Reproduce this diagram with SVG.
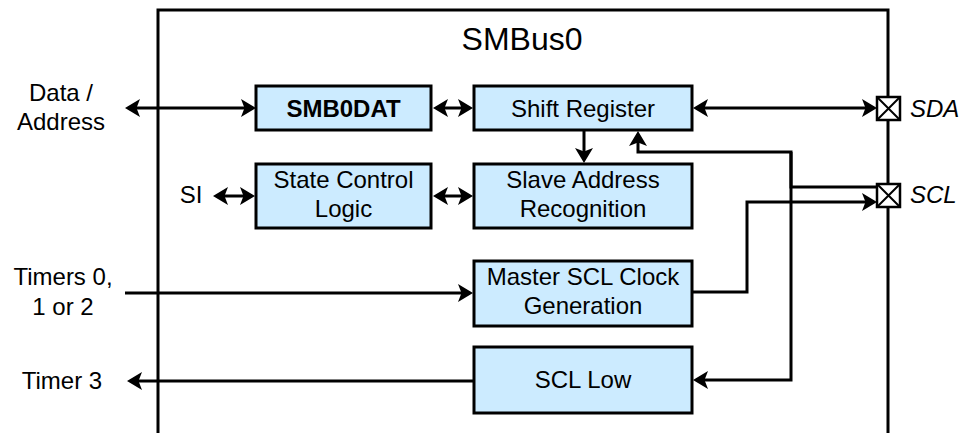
<svg xmlns="http://www.w3.org/2000/svg" width="959" height="433" viewBox="0 0 959 433">
<style>
.frame{fill:none;stroke:#000;stroke-width:3}
.box{fill:#CCEBFF;stroke:#000;stroke-width:3}
.pin{fill:#fff;stroke:#000;stroke-width:2.5}
.t{font-family:"Liberation Sans",Arial,sans-serif;font-size:24px;fill:#000;text-anchor:middle}
.b{font-weight:bold}
.i{font-style:italic;text-anchor:start}
.c{fill:none;stroke:#000;stroke-width:3}
.a{marker-end:url(#ah)}
.aa{marker-start:url(#ah);marker-end:url(#ah)}
</style>
<defs>
<marker id="ah" viewBox="0 0 15 18" refX="12" refY="9" markerWidth="15" markerHeight="18" markerUnits="userSpaceOnUse" orient="auto-start-reverse">
<path d="M0,0 L15,9 L0,18 L3.5,9 z" fill="#000"/>
</marker>
</defs>
<path class="frame" d="M158,433 V10 H888 V433"/>
<text class="t" x="522" y="50" style="font-size:32px">SMBus0</text>

<g id="connectors">
<path class="c aa" d="M128,108 H253"/>
<path class="c aa" d="M436,108 H470"/>
<path class="c aa" d="M696,108 H874"/>
<path class="c a" d="M584,131 V160"/>
<path class="c a" d="M877,187 H791 V152 H638 V134"/>
<path class="c a" d="M791,152 V380 H696"/>
<path class="c a" d="M692,292 H747 V202 H874"/>
<path class="c a" d="M125,293 H470"/>
<path class="c a" d="M474,381 H130"/>
<path class="c aa" d="M216,196 H252"/>
<path class="c aa" d="M436,196 H470"/>
</g>

<g id="smb0dat">
<rect class="box" x="256" y="86" width="175" height="44"/>
<text class="t b" x="343.5" y="116.5">SMB0DAT</text>
</g>
<g id="shift-register">
<rect class="box" x="474" y="86" width="218" height="44"/>
<text class="t" x="583" y="116.5">Shift Register</text>
</g>
<g id="state-control">
<rect class="box" x="256" y="164" width="175" height="64"/>
<text class="t" x="343.5" y="187.5">State Control</text>
<text class="t" x="343.5" y="216.5">Logic</text>
</g>
<g id="slave-address">
<rect class="box" x="474" y="164" width="218" height="64"/>
<text class="t" x="583" y="187.5">Slave Address</text>
<text class="t" x="583" y="216.5">Recognition</text>
</g>
<g id="master-scl">
<rect class="box" x="474" y="261" width="218" height="65"/>
<text class="t" x="583" y="285">Master SCL Clock</text>
<text class="t" x="583" y="314">Generation</text>
</g>
<g id="scl-low">
<rect class="box" x="474" y="347" width="218" height="66"/>
<text class="t" x="583" y="388">SCL Low</text>
</g>

<g id="sda-pin">
<rect class="pin" x="877" y="97" width="23" height="23"/>
<path class="c" style="stroke-width:2" d="M878,98 L899,119 M899,98 L878,119"/>
<text class="t i" x="910" y="116.5">SDA</text>
</g>
<g id="scl-pin">
<rect class="pin" x="877" y="184" width="23" height="23"/>
<path class="c" style="stroke-width:2" d="M878,185 L899,206 M899,185 L878,206"/>
<text class="t i" x="910" y="203">SCL</text>
</g>

<g id="data-address">
<text class="t" x="61" y="101">Data /</text>
<text class="t" x="61" y="130">Address</text>
</g>
<g id="si"><text class="t" x="191" y="203">SI</text></g>
<g id="timers">
<text class="t" x="63" y="285">Timers 0,</text>
<text class="t" x="63" y="315">1 or 2</text>
</g>
<g id="timer3"><text class="t" x="62" y="389">Timer 3</text></g>
</svg>
